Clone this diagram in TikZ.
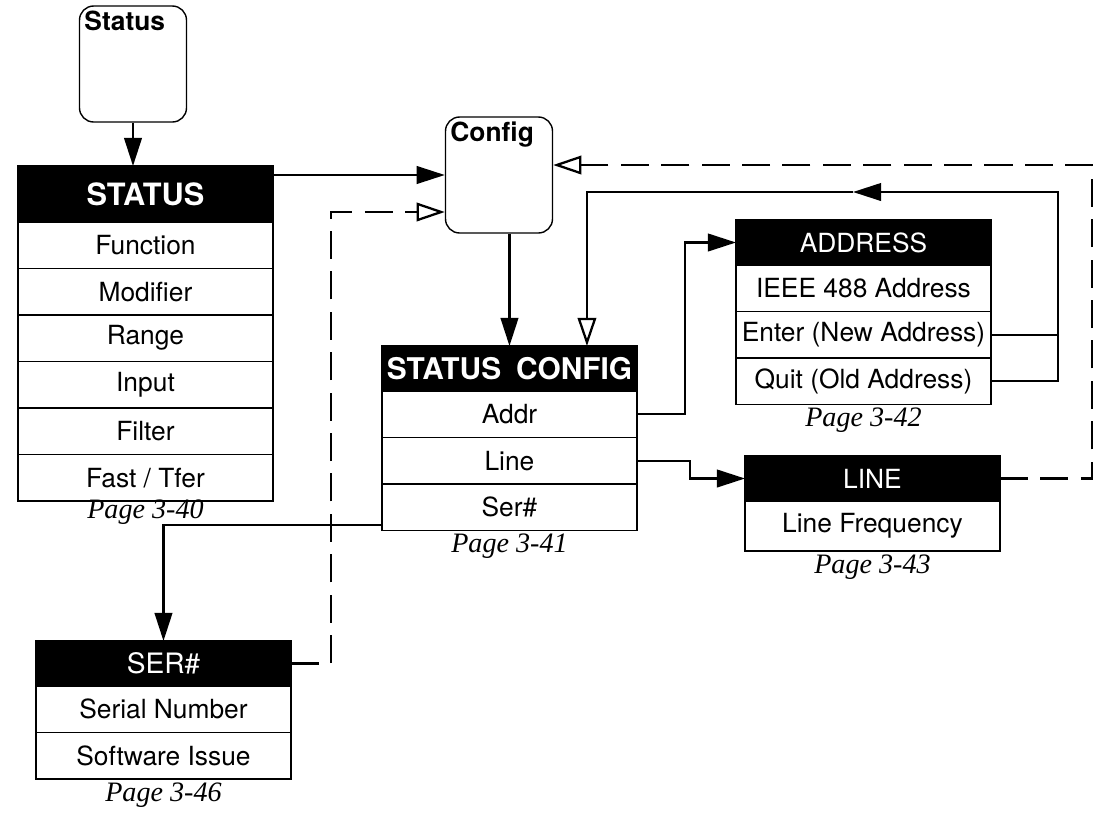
\documentclass[tikz,border=0pt]{standalone}
\usepackage{fontspec}
\setmainfont{TeX Gyre Heros}
\newfontfamily\pagefont{Liberation Serif}
\usetikzlibrary{arrows.meta,positioning}

\tikzset{
  menuhead/.style={draw, fill=black, text=white, line width=0.8pt, minimum width=5.1cm, minimum height=0.9cm, inner sep=0pt, outer sep=0pt, font=\fontsize{15}{18}\selectfont},
  menuitem/.style={draw, fill=white, line width=0.8pt, minimum width=5.1cm, minimum height=0.93cm, inner sep=0pt, outer sep=0pt, font=\fontsize{15}{18}\selectfont},
  keybox/.style={draw, rounded corners=8pt, line width=0.8pt, minimum width=2.14cm, minimum height=2.32cm, inner sep=0pt},
  keylbl/.style={font=\fontsize{15}{17}\selectfont\bfseries, anchor=north west, inner sep=3pt},
  pagelbl/.style={font=\pagefont\itshape\fontsize{16}{18}\selectfont, inner sep=1pt},
  conn/.style={line width=1.3pt},
  arr/.style={conn, -{Triangle[length=16pt,width=10pt]}},
  oarr/.style={conn, -{Triangle[open,length=16pt,width=10.5pt]}},
  dline/.style={dash pattern=on 16pt off 7pt},
}

\begin{document}
\begin{tikzpicture}[x=0.02cm, y=-0.02cm]
\useasboundingbox (0,0) rectangle (1110,826);
% soft keys
\node[keybox] (stk) at (133,64) {};
\node[keylbl] (stkl) at (stk.north west) {Status};
\node[keybox] (cfg) at (499,175) {};
\node[keylbl] (cfgl) at (cfg.north west) {Config};
% STATUS menu
\node[menuhead, minimum height=1.12cm, anchor=north west, font=\fontsize{17.5}{20}\selectfont\bfseries] (st0) at (18,166) {STATUS};
\foreach \t [count=\i, remember=\i as \j (initially 0)] in {Function,Modifier,Range,Input,Filter,Fast / Tfer}
  \node[menuitem, below=0pt of st\j] (st\i) {\t};
\node[pagelbl, below=-2pt of st6] (pg1) {Page 3-40};
% STATUS CONFIG menu
\node[menuhead, anchor=north west, font=\fontsize{17}{20}\selectfont\bfseries] (sc0) at (382,346) {STATUS\hspace{0.5em}CONFIG};
\foreach \t [count=\i, remember=\i as \j (initially 0)] in {Addr,Line,Ser\#}
  \node[menuitem, below=0pt of sc\j] (sc\i) {\t};
\node[pagelbl, below=1pt of sc3] (pg2) {Page 3-41};
% ADDRESS menu
\node[menuhead, anchor=north west] (ad0) at (736,220) {ADDRESS};
\foreach \t [count=\i, remember=\i as \j (initially 0)] in {IEEE 488 Address,Enter (New Address),Quit (Old Address)}
  \node[menuitem, below=0pt of ad\j] (ad\i) {\t};
\node[pagelbl, below=1pt of ad3] (pg3) {Page 3-42};
% LINE menu
\node[menuhead, anchor=north west] (ln0) at (745,456) {LINE};
\node[menuitem, below=0pt of ln0, minimum height=1cm] (ln1) {Line Frequency};
\node[pagelbl, below=1pt of ln1] (pg4) {Page 3-43};
% SER# menu
\node[menuhead, anchor=north west, font=\fontsize{16}{19}\selectfont] (se0) at (36,641) {SER\#};
\foreach \t [count=\i, remember=\i as \j (initially 0)] in {Serial Number,Software Issue}
  \node[menuitem, below=0pt of se\j] (se\i) {\t};
\node[pagelbl, below=1pt of se2] (pg5) {Page 3-46};
% forward links
\draw[arr] (stk.south) -- (stk.south |- st0.north);
\draw[arr] (st0.east |- cfg.west) -- (cfg.west);
\draw[arr] (sc0.north |- cfg.south) -- (sc0.north);
\draw[arr] (sc1.east) -- ++(48,0) |- (ad0.west);
\draw[arr] (sc2.east) -- ++(53,0) |- (ln0.west);
\draw[arr] ([yshift=-0.36cm]sc3.west) -| (se0.north);
% return from ADDRESS
\coordinate (lpR) at (1058,192);
\coordinate (lpM) at (853,192);
\draw[conn] (ad2.east) -- (ad2.east -| lpR);
\draw[arr] (ad3.east) -| (lpR) -- (lpM);
\draw[oarr] (lpM) -| ([xshift=-1cm]sc0.north east);
% dashed returns to Config
\draw[oarr, dline] (se0.east) -- ++(40,0) |- ([yshift=-0.74cm]cfg.west);
\draw[oarr, dline] (ln0.east) -- ++(92,0) |- ([yshift=0.2cm]cfg.east);
\end{tikzpicture}
\end{document}
